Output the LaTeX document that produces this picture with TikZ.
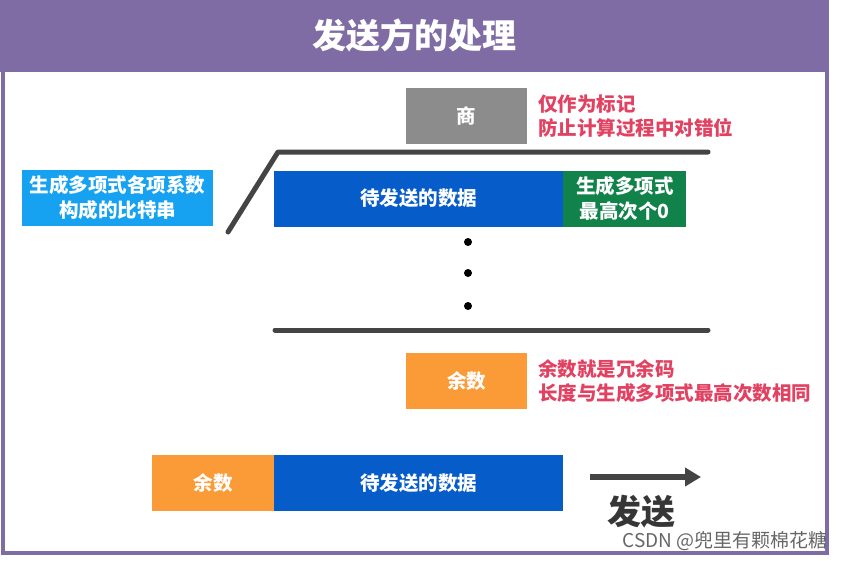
\documentclass[tikz,border=0pt]{standalone}
\usepackage{fontspec}
\setmainfont{Noto Sans CJK SC}
\usetikzlibrary{arrows.meta,positioning}
\definecolor{titlePurple}{RGB}{128,108,165}
\definecolor{quotGray}{RGB}{140,140,140}
\definecolor{lineGray}{RGB}{68,68,68}
\definecolor{polyBlue}{RGB}{22,162,240}
\definecolor{dataBlue}{RGB}{6,92,200}
\definecolor{zeroGreen}{RGB}{16,130,74}
\definecolor{remOrange}{RGB}{250,155,55}
\definecolor{noteRed}{RGB}{226,66,98}
\begin{document}
\begin{tikzpicture}[
    x=1pt, y=-1pt,
    box/.style={inner sep=0pt, minimum height=56pt, align=center, text=white,
      font=\fontsize{19.5}{25}\selectfont\bfseries},
    note/.style={anchor=west, align=left, text=noteRed, inner sep=0pt,
      font=\fontsize{19.5}{24.5}\selectfont\bfseries},
    bar/.style={draw=lineGray, line width=5pt, line cap=round, line join=round},
    >=Stealth
  ]
    \useasboundingbox (0,0) rectangle (843,560);
    % frame and title
    \draw[titlePurple, line width=4pt] (2.5,2) rectangle (826.5,553);
    \fill[titlePurple] (0,0) rectangle (828.5,72);
    \node[text=white, font=\fontsize{34}{40}\selectfont\bfseries] (title) at (414,35) {发送方的处理};

    % quotient
    \node[box, fill=quotGray, minimum width=121pt] (quot) at (466.5,115.5) {商};
    \node[note] (quotnote) at (538,116) {仅作为标记\\防止计算过程中对错位};

    % division bracket
    \draw[bar] (228,232) -- (278,152) -- (708,152);

    % divisor and dividend
    \node[box, fill=polyBlue, minimum width=191pt] (poly) at (117.5,198) {生成多项式各项系数\\构成的比特串};
    \node[box, fill=dataBlue, minimum width=289pt] (data) at (418.5,198.5) {待发送的数据};
    \node[box, fill=zeroGreen, minimum width=123pt, right=0pt of data] (zeros) {生成多项式\\最高次个0};

    \foreach \y in {242,273,306}
      \fill (468,\y) circle (4pt);

    \draw[bar] (275,330) -- (708,330);

    % remainder
    \node[box, fill=remOrange, minimum width=121pt] (rem) at (466.5,381) {余数};
    \node[note] (remnote) at (538,381) {余数就是冗余码\\长度与生成多项式最高次数相同};

    % frame to send
    \node[box, fill=remOrange, minimum width=122pt] (sendrem) at (213,483) {余数};
    \node[box, fill=dataBlue, minimum width=289pt, right=0pt of sendrem] (senddata) {待发送的数据};
    \coordinate (sfrom) at (590,477);
    \coordinate (sto) at (701,477);
    \draw[draw=lineGray, line width=6pt, -{Triangle[length=16pt,width=18pt]}] (sfrom) -- (sto);
    \node[text=lineGray!80!black, font=\fontsize{34}{40}\selectfont\bfseries] (send) at (641,512) {发送};

    \node[anchor=east, text=black!60, inner sep=0pt, font=\fontsize{19}{22}\selectfont] (mark) at (828,541) {CSDN @兜里有颗棉花糖};
  \end{tikzpicture}
\end{document}
